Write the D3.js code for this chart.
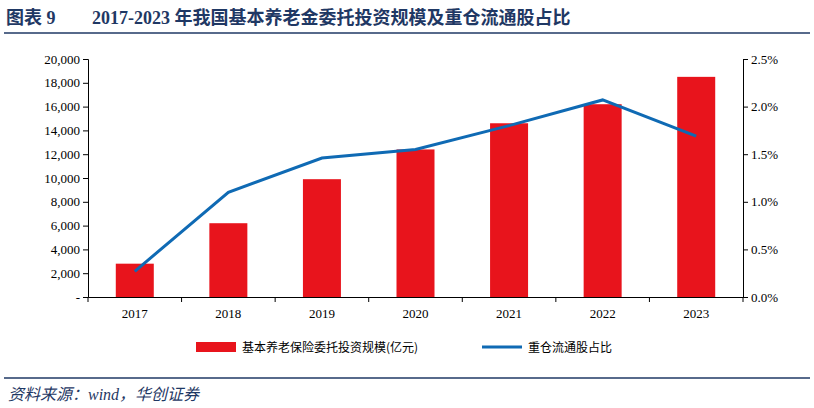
<!DOCTYPE html>
<html><head><meta charset="utf-8">
<script src="https://cdn.jsdelivr.net/npm/d3@7"></script>
<style>body{margin:0;background:#fff;font-family:"Liberation Serif","Noto Sans CJK SC",serif;}</style>
</head><body><svg id="c" width="814" height="408"></svg>
<script>
const years = ['2017','2018','2019','2020','2021','2022','2023'];
const scale = [2800, 6200, 9900, 12400, 14600, 16200, 18500];
const share = [0.27, 1.10, 1.46, 1.55, 1.80, 2.07, 1.69];
const leftTicks = [0,2000,4000,6000,8000,10000,12000,14000,16000,18000,20000];
const rightTicks = [0,0.5,1,1.5,2,2.5];

const svg = d3.select('#c');
const mLeft = 88, mRight = 743, mTop = 59, mBottom = 297;

// header
svg.append('text').text('图表 9').attr('x', 6).attr('y', 24).attr('fill', '#1f3864')
  .style('font-size', '18px').style('font-weight', 'bold')
  .style('font-family', '"Liberation Serif","Noto Sans CJK SC",serif');
svg.append('text').text('2017-2023 年我国基本养老金委托投资规模及重仓流通股占比')
  .attr('x', 92).attr('y', 24).attr('fill', '#1f3864')
  .style('font-size', '18px').style('font-weight', 'bold')
  .style('font-family', '"Liberation Serif","Noto Sans CJK SC",serif');
svg.append('line').attr('x1', 4).attr('x2', 810).attr('y1', 33).attr('y2', 33)
  .attr('stroke', '#1f3864').attr('stroke-width', 1.5);

const x = d3.scaleBand().domain(years).range([mLeft, mRight]);
const y = d3.scaleLinear().domain([0, 20000]).range([mBottom, mTop]);
const y2 = d3.scaleLinear().domain([0, 2.5]).range([mBottom, mTop]);

svg.selectAll('rect.bar').data(years).join('rect')
  .attr('x', d => x(d) + x.bandwidth() / 2 - 19)
  .attr('width', 38)
  .attr('y', (d, i) => y(scale[i]))
  .attr('height', (d, i) => mBottom - y(scale[i]))
  .attr('fill', '#e8141c');

const line = d3.line().x((d, i) => x(years[i]) + x.bandwidth() / 2).y(d => y2(d));
svg.append('path').attr('d', line(share)).attr('fill', 'none')
  .attr('stroke', '#0f6ab4').attr('stroke-width', 3);

const fmt = d3.format(',');
const ya = svg.append('g').attr('transform', `translate(${mLeft},0)`)
  .call(d3.axisLeft(y).tickValues(leftTicks).tickSize(5).tickFormat(d => d === 0 ? '-' : fmt(d)));
const yb = svg.append('g').attr('transform', `translate(${mRight},0)`)
  .call(d3.axisRight(y2).tickValues(rightTicks).tickSize(5).tickFormat(d => d.toFixed(1) + '%'));
const xa = svg.append('g').attr('transform', `translate(0,${mBottom})`)
  .call(d3.axisBottom(x).tickSize(0).tickSizeOuter(0));
svg.selectAll('line.sep').data(d3.range(years.length + 1)).join('line')
  .attr('class', 'sep')
  .attr('x1', i => mLeft + i * x.step()).attr('x2', i => mLeft + i * x.step())
  .attr('y1', mBottom).attr('y2', mBottom + 5).attr('stroke', '#000');
[ya, yb, xa].forEach(g => {
  g.selectAll('text').style('font-size', '13px').attr('fill', '#000')
    .style('font-family', '"Liberation Serif",serif');
  g.selectAll('.domain,line').attr('stroke', '#000');
});
xa.selectAll('text').attr('dy', '1.4em');

// legend
svg.append('rect').attr('x', 196).attr('y', 342).attr('width', 40).attr('height', 10).attr('fill', '#e8141c');
svg.append('text').text('基本养老保险委托投资规模(亿元)').attr('x', 242).attr('y', 352)
  .style('font-size', '12px').style('font-family', '"Noto Sans CJK SC",sans-serif');
svg.append('line').attr('x1', 482).attr('x2', 522).attr('y1', 347).attr('y2', 347)
  .attr('stroke', '#0f6ab4').attr('stroke-width', 3);
svg.append('text').text('重仓流通股占比').attr('x', 528).attr('y', 352)
  .style('font-size', '12px').style('font-family', '"Noto Sans CJK SC",sans-serif');

// footer
svg.append('line').attr('x1', 4).attr('x2', 810).attr('y1', 378).attr('y2', 378)
  .attr('stroke', '#1f3864').attr('stroke-width', 1.5);
svg.append('text').text('资料来源：wind，华创证券').attr('x', 8).attr('y', 400)
  .attr('fill', '#1f3864').style('font-size', '16px').style('font-style', 'italic')
  .style('font-family', '"Liberation Serif","Noto Sans CJK SC",serif');
</script></body></html>
